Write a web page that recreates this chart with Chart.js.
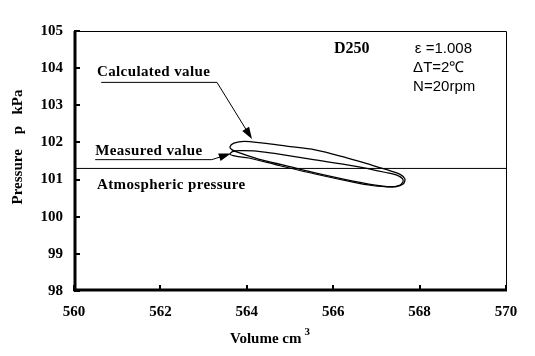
<!DOCTYPE html>
<html>
<head>
<meta charset="utf-8">
<script src="https://cdn.jsdelivr.net/npm/chart.js@4"></script>
<style>
  html,body{margin:0;padding:0;background:#fff;}
  #wrap{width:535px;height:356px;}
</style>
</head>
<body>
<div id="wrap"><canvas id="c" width="535" height="356"></canvas></div>
<script>
// ---- data ----
const xTicks = [560, 562, 564, 566, 568, 570];
const yTicks = [98, 99, 100, 101, 102, 103, 104, 105];

// Calculated value loop (volume cm3, pressure kPa)
const calcV = [564.92, 565.58, 566.24, 566.89, 567.34, 567.55, 567.66, 567.62, 567.44, 567.11, 566.46, 565.58, 564.92, 564.27, 563.83, 563.66, 563.61, 563.70, 563.94, 564.38, 564.92];
const calcP = [101.90, 101.80, 101.61, 101.39, 101.23, 101.14, 101.02, 100.88, 100.81, 100.83, 100.96, 101.18, 101.37, 101.55, 101.72, 101.80, 101.88, 101.98, 102.03, 101.98, 101.90];

// Measured value loop
const measV = [564.71, 565.58, 566.46, 567.22, 567.51, 567.62, 567.55, 567.34, 566.89, 566.46, 565.58, 564.71, 564.05, 563.74, 563.61, 563.68, 563.83, 564.16, 564.71];
const measP = [101.69, 101.53, 101.37, 101.19, 101.10, 100.98, 100.85, 100.80, 100.84, 100.93, 101.15, 101.39, 101.58, 101.63, 101.68, 101.76, 101.78, 101.77, 101.69];

// Atmospheric pressure
const atmV = [560, 570];
const atmP = [101.3, 101.3];

const SERIF = "'Liberation Serif','Times New Roman',serif";
const SANS = "'Liberation Sans',Arial,sans-serif";

function pts(v, p) { return v.map((x, i) => ({ x: x, y: p[i] })); }

const decor = {
  id: 'decor',
  beforeDraw(chart) {
    const ctx = chart.ctx;
    ctx.save();
    ctx.fillStyle = '#fff';
    ctx.fillRect(0, 0, chart.width, chart.height);
    ctx.restore();
  },
  afterDraw(chart) {
    const ctx = chart.ctx;
    const xs = chart.scales.x, ys = chart.scales.y;
    const X = v => xs.getPixelForValue(v), Y = p => ys.getPixelForValue(p);
    const a = chart.chartArea;
    ctx.save();
    ctx.strokeStyle = '#000';
    ctx.fillStyle = '#000';
    // thin top & right border
    ctx.lineWidth = 1;
    ctx.beginPath();
    ctx.moveTo(a.left, a.top + 0.5); ctx.lineTo(a.right + 0.5, a.top + 0.5); ctx.lineTo(a.right + 0.5, a.bottom);
    ctx.stroke();
    // thick left & bottom
    ctx.lineWidth = 3;
    ctx.beginPath();
    ctx.moveTo(a.left + 1, a.top); ctx.lineTo(a.left + 1, a.bottom - 1); ctx.lineTo(a.right + 1, a.bottom - 1);
    ctx.stroke();
    // inward ticks
    ctx.lineWidth = 2;
    ctx.beginPath();
    yTicks.forEach(t => { const y = Math.round(Y(t)); ctx.moveTo(a.left, y); ctx.lineTo(a.left + 6, y); });
    xTicks.forEach(t => { const x = Math.round(X(t)); ctx.moveTo(x, a.bottom); ctx.lineTo(x, a.bottom - 6); });
    ctx.stroke();

    // annotations
    ctx.textBaseline = 'alphabetic';
    ctx.textAlign = 'left';
    ctx.font = 'bold 15px ' + SERIF;
    ctx.letterSpacing = '0.4px';
    ctx.fillText('Calculated value', X(560.53), Y(103.78));
    ctx.fillText('Measured value', X(560.49), Y(101.67));
    ctx.fillText('Atmospheric pressure', X(560.53), Y(100.75));
    ctx.letterSpacing = '0px';
    ctx.font = 'bold 16px ' + SERIF;
    ctx.fillText('D250', X(566.02), Y(104.41));
    ctx.font = '15px ' + SANS;
    ctx.fillText('\u03b5 =1.008', X(567.89), Y(104.41));
    ctx.fillText('\u0394T=2\u2103', X(567.85), Y(103.90));
    ctx.fillText('N=20rpm', X(567.85), Y(103.39));

    function arrow(x1, y1, x2, y2) {
      const ang = Math.atan2(y2 - y1, x2 - x1), L = 12, W = 4;
      ctx.lineWidth = 1;
      ctx.beginPath(); ctx.moveTo(x1, y1); ctx.lineTo(x2 - Math.cos(ang) * L * 0.8, y2 - Math.sin(ang) * L * 0.8); ctx.stroke();
      ctx.beginPath();
      ctx.moveTo(x2, y2);
      ctx.lineTo(x2 - L * Math.cos(ang) + W * Math.sin(ang), y2 - L * Math.sin(ang) - W * Math.cos(ang));
      ctx.lineTo(x2 - L * Math.cos(ang) - W * Math.sin(ang), y2 - L * Math.sin(ang) + W * Math.cos(ang));
      ctx.closePath(); ctx.fill();
    }
    ctx.lineWidth = 1;
    // calculated leader
    ctx.beginPath(); ctx.moveTo(X(560.63), Y(103.63) + 0.5); ctx.lineTo(X(563.31), Y(103.63) + 0.5); ctx.stroke();
    arrow(X(563.31), Y(103.63) + 0.5, X(564.12), Y(102.09));
    // measured leader
    ctx.beginPath(); ctx.moveTo(X(560.49), Y(101.55) + 0.5); ctx.lineTo(X(563.19), Y(101.55) + 0.5); ctx.stroke();
    arrow(X(563.19), Y(101.55) + 0.5, X(563.63), Y(101.70));

    // axis titles
    ctx.font = 'bold 15px ' + SERIF;
    ctx.textAlign = 'center';
    ctx.save();
    ctx.translate(22, 147);
    ctx.rotate(-Math.PI / 2);
    ctx.fillText('Pressure    p   kPa', 0, 0);
    ctx.restore();
    ctx.textAlign = 'left';
    ctx.fillText('Volume cm', 230, 343);
    const w = ctx.measureText('Volume cm').width;
    ctx.font = 'bold 11px ' + SERIF;
    ctx.fillText('3', 230 + w + 3, 335);
    ctx.restore();
  }
};

new Chart(document.getElementById('c'), {
  type: 'scatter',
  data: {
    datasets: [
      { label: 'Calculated value', data: pts(calcV, calcP), showLine: true, borderColor: '#000', borderWidth: 1.3, pointRadius: 0, tension: 0.3, fill: false },
      { label: 'Measured value', data: pts(measV, measP), showLine: true, borderColor: '#000', borderWidth: 1.2, pointRadius: 0, tension: 0.3, fill: false },
      { label: 'Atmospheric pressure', data: pts(atmV, atmP), showLine: true, borderColor: '#000', borderWidth: 1, pointRadius: 0, tension: 0, fill: false }
    ]
  },
  options: {
    responsive: false,
    animation: false,
    layout: { padding: { left: 0, top: 31, right: 29, bottom: 0 } },
    plugins: { legend: { display: false }, tooltip: { enabled: false } },
    scales: {
      x: {
        type: 'linear', min: 560, max: 570,
        afterFit: s => { s.height = 65; },
        afterBuildTicks: s => { s.ticks = xTicks.map(v => ({ value: v })); },
        grid: { display: false, drawTicks: false },
        border: { display: false },
        ticks: { color: '#000', padding: 12, maxRotation: 0, font: { family: SERIF, size: 15, weight: 'bold' } }
      },
      y: {
        type: 'linear', min: 98, max: 105,
        afterFit: s => { s.width = 74; },
        afterBuildTicks: s => { s.ticks = yTicks.map(v => ({ value: v })); },
        grid: { display: false, drawTicks: false },
        border: { display: false },
        ticks: { color: '#000', padding: 11, font: { family: SERIF, size: 15, weight: 'bold' } }
      }
    }
  },
  plugins: [decor]
});
</script>
</body>
</html>
